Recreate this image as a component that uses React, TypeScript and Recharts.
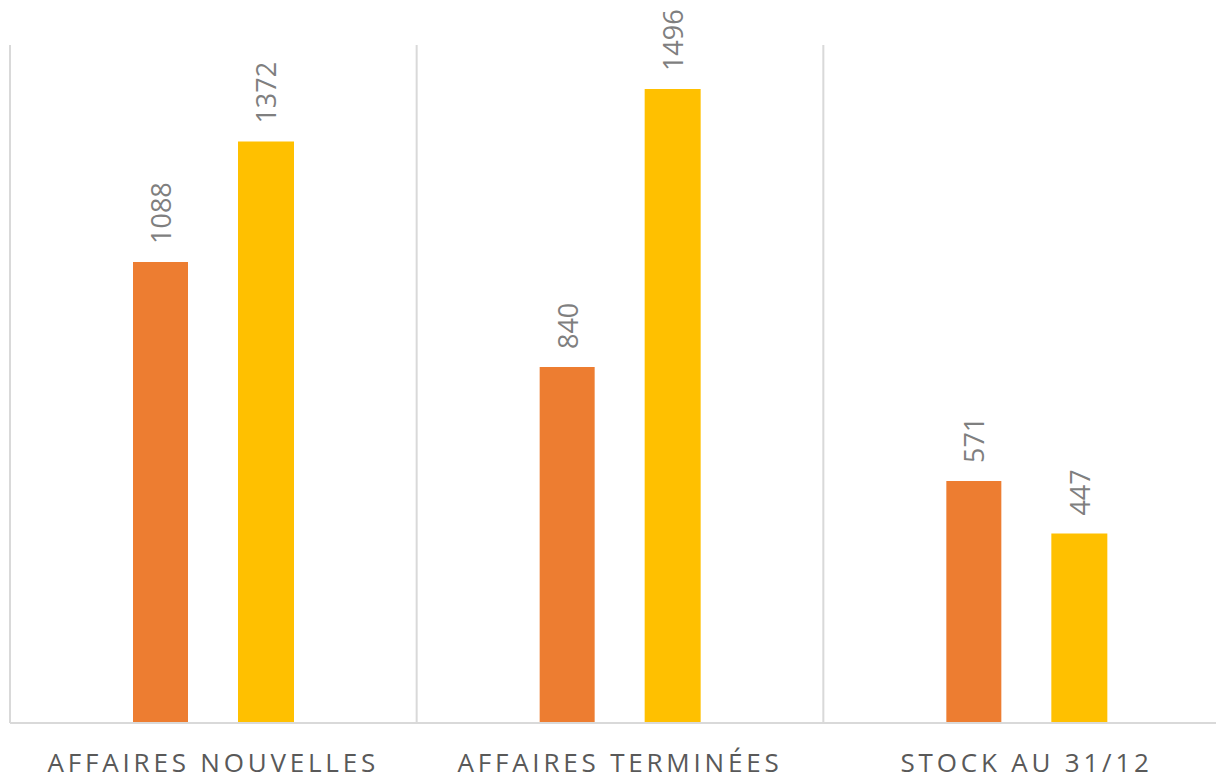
import { BarChart, Bar, XAxis, YAxis, CartesianGrid, LabelList } from 'recharts';

const categories = ['AFFAIRES NOUVELLES', 'AFFAIRES TERMINÉES', 'STOCK AU 31/12'];
const seriesA = [1088, 840, 571];
const seriesB = [1372, 1496, 447];

const data = categories.map((name, i) => ({ name, a: seriesA[i], b: seriesB[i] }));

const FONT = '"Open Sans", "Noto Sans", sans-serif';
const TEXT = '#595959';
const LABEL = '#7f7f7f';

function CategoryTick(props: any) {
  const { x, y, payload } = props;
  return (
    <text x={x} y={y} dy={41} textAnchor="middle" fill={TEXT} fontFamily={FONT} fontSize={26} letterSpacing={3.8}>
      {payload.value}
    </text>
  );
}

function ValueLabel(props: any) {
  const { x, y, width, value } = props;
  const cx = Number(x) + Number(width) / 2;
  const cy = Number(y) - 18;
  return (
    <text
      x={cx}
      y={cy}
      transform={`rotate(-90 ${cx} ${cy})`}
      textAnchor="start"
      dominantBaseline="central"
      fill={LABEL}
      fontFamily={FONT}
      fontSize={27}
    >
      {value}
    </text>
  );
}

// vertical lines on the edges of each category band
function bandEdges({ offset }: any) {
  const n = categories.length;
  const step = offset.width / n;
  const edges: number[] = [];
  for (let i = 0; i <= n; i++) edges.push(offset.left + i * step);
  return edges;
}

export default function App() {
  return (
    <div style={{ position: 'fixed', left: 0, top: 0, width: 1216, height: 781, overflow: 'hidden', background: '#fff' }}>
      <BarChart width={1240} height={781} data={data} margin={{ top: 45, right: 10, left: 10, bottom: 0 }} barGap={50}>
        <CartesianGrid horizontal={false} stroke="#d9d9d9" strokeWidth={2} verticalCoordinatesGenerator={bandEdges} />
        <XAxis
          dataKey="name"
          tickLine={false}
          axisLine={{ stroke: '#d9d9d9', strokeWidth: 2 }}
          tick={<CategoryTick />}
          interval={0}
          height={58}
        />
        <YAxis hide domain={[0, 1600]} />
        <Bar dataKey="a" fill="#ed7d31" barSize={55} isAnimationActive={false}>
          <LabelList dataKey="a" content={<ValueLabel />} />
        </Bar>
        <Bar dataKey="b" fill="#ffc000" barSize={56} isAnimationActive={false}>
          <LabelList dataKey="b" content={<ValueLabel />} />
        </Bar>
      </BarChart>
    </div>
  );
}
